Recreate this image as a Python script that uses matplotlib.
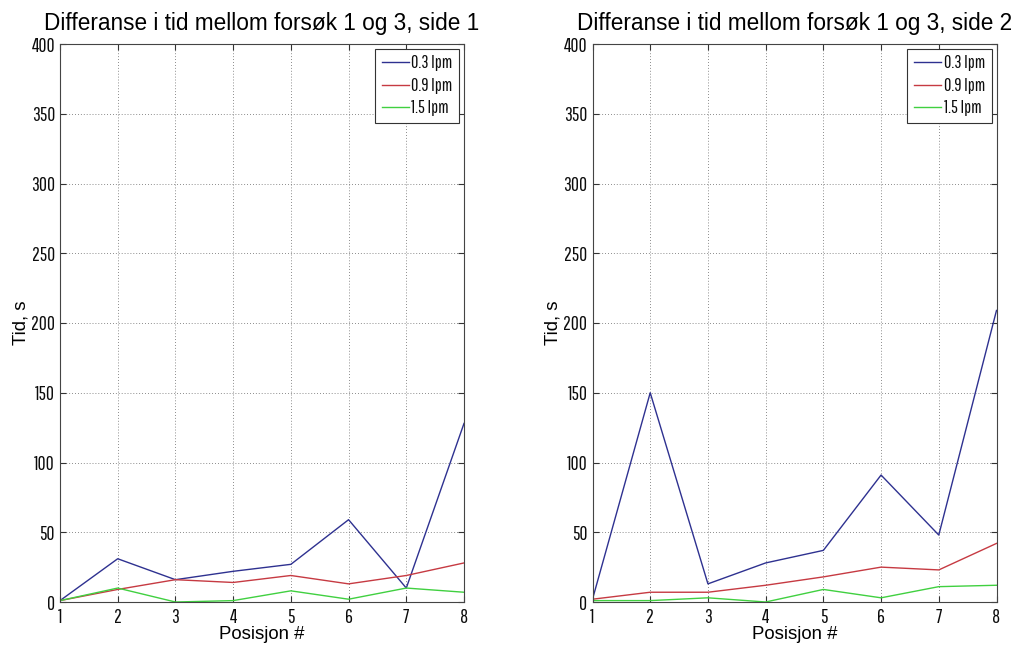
import matplotlib
matplotlib.use("Agg")
import matplotlib.pyplot as plt

positions = [1, 2, 3, 4, 5, 6, 7, 8]
series_labels = ["0.3 lpm", "0.9 lpm", "1.5 lpm"]

side1_03 = [1, 31, 16, 22, 27, 59, 10, 128]
side1_09 = [1, 9, 16, 14, 19, 13, 19, 28]
side1_15 = [1, 10, 0, 1, 8, 2, 10, 7]

side2_03 = [2, 150, 13, 28, 37, 91, 48, 209]
side2_09 = [2, 7, 7, 12, 18, 25, 23, 42]
side2_15 = [1, 1, 3, 0, 9, 3, 11, 12]

titles = ["Differanse i tid mellom forsøk 1 og 3, side 1",
          "Differanse i tid mellom forsøk 1 og 3, side 2"]
yticks = [0, 50, 100, 150, 200, 250, 300, 350, 400]

colors = ["#2e3190", "#c63a42", "#40d040"]
text_font = ["Liberation Sans", "DejaVu Sans"]
narrow_font = ["Pathway Gothic One", "Saira Extra Condensed", "PT Sans Narrow",
               "DejaVu Sans"]
INK = "#0c0c0c"

fig = plt.figure(figsize=(10.21, 6.5), dpi=100)
axes = [fig.add_axes([60 / 1021, 48 / 650, 404 / 1021, 558 / 650]),
        fig.add_axes([592.5 / 1021, 48 / 650, 404 / 1021, 558 / 650])]

data = [(side1_03, side1_09, side1_15), (side2_03, side2_09, side2_15)]

for ax, title, series in zip(axes, titles, data):
    for vals, col, lab in zip(series, colors, series_labels):
        ax.plot(positions, vals, color=col, lw=1.0, label=lab)
    ax.set_xlim(1, 8)
    ax.set_ylim(0, 400)
    ax.set_xticks(positions, [str(p) for p in positions],
                  fontfamily=narrow_font, fontsize=14, fontweight="bold",
                  color=INK)
    ax.set_yticks(yticks, [str(v) for v in yticks],
                  fontfamily=narrow_font, fontsize=14, fontweight="bold",
                  color=INK)
    ax.grid(True, linestyle=(0, (1, 2.5)), color="#666666", linewidth=0.6)
    ax.tick_params(direction="in", top=True, right=True, length=4,
                   color="#333333")
    ax.tick_params(axis="x", pad=4.5)
    ax.tick_params(axis="y", pad=3.6)
    for sp in ax.spines.values():
        sp.set_color("#444444")
        sp.set_linewidth(0.8)

    ax.set_title(title, fontsize=16.3, family=text_font, y=1.0251, pad=0)
    ax.set_xlabel("Posisjon #", fontsize=13.4, family=text_font, va="baseline")
    ax.xaxis.set_label_coords(0.5, -37 / 558)
    ax.set_ylabel("Tid, s", fontsize=13.3, family=text_font, va="baseline")
    ax.yaxis.set_label_coords(-0.086, 0.5)

    leg = ax.legend(loc="upper right",
                    prop=dict(family=narrow_font, size=13, weight="bold"),
                    frameon=True, fancybox=False, framealpha=1,
                    borderaxespad=0.25, handlelength=1.5, handletextpad=0.15,
                    labelspacing=0.36, borderpad=0.38)
    leg.get_frame().set_edgecolor("#333333")
    leg.get_frame().set_linewidth(0.8)
    for t in leg.get_texts():
        t.set_color(INK)

fig.savefig("out.png", dpi=100)
